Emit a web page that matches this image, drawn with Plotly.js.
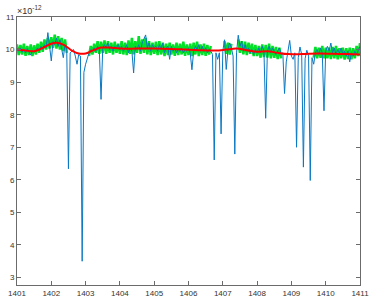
<!DOCTYPE html>
<html>
<head>
<meta charset="utf-8">
<script src="https://cdn.plot.ly/plotly-3.0.1.min.js"></script>
<style>
  html, body { margin: 0; padding: 0; background: #fff; }
  #chart { width: 374px; height: 305px; }
</style>
</head>
<body>
<div id="chart"></div>
<script>
// Sampling grid for the raw and cleaned signals (start, step)
const tStart = 1401;
const tStep = 0.05;

// Raw signal (blue), units of 1e-12
const rawSignal = [
  10.02, 9.95, 10.05, 9.92, 10.0, 9.9, 10.03, 9.93, 9.83, 9.97,
  9.92, 9.98, 10.05, 9.95, 10.1, 10.0, 10.15, 10.05, 10.52, 10.1,
  9.65, 10.25, 10.15, 10.35, 10.1, 10.3, 10.05, 9.75, 10.15, 10.0,
  6.34, 9.9, 9.95, 10.0, 9.8, 9.55, 9.85, 9.8, 3.5, 9.3,
  9.55, 9.75, 9.9, 10.0, 9.95, 10.05, 9.95, 10.1, 10.0, 8.47,
  10.05, 10.15, 10.05, 10.2, 10.0, 10.1, 9.95, 10.1, 10.05, 10.15,
  10.0, 10.1, 9.95, 10.05, 10.15, 9.9, 10.05, 9.95, 9.28, 10.1,
  10.0, 10.15, 9.95, 10.2, 10.3, 10.45, 10.05, 10.2, 9.95, 10.15,
  10.05, 10.1, 9.95, 10.15, 10.0, 10.2, 9.9, 10.05, 10.1, 9.7,
  10.1, 9.95, 10.05, 9.9, 10.0, 9.95, 10.05, 9.9, 10.0, 9.95,
  10.05, 9.9, 9.38, 9.95, 10.1, 10.0, 10.15, 9.95, 10.1, 9.95,
  10.05, 9.9, 10.0, 9.95, 9.85, 6.61, 9.9, 9.7, 9.9, 7.41,
  9.95, 10.3, 9.39, 10.0, 10.2, 10.05, 9.8, 6.79, 9.9, 10.44,
  10.1, 10.25, 9.95, 10.15, 9.95, 10.05, 9.9, 10.0, 9.85, 10.0,
  9.9, 10.05, 9.9, 10.1, 9.95, 7.89, 9.95, 10.1, 9.9, 10.05,
  9.95, 9.85, 9.95, 10.05, 9.85, 9.9, 8.65, 9.62, 9.95, 10.28,
  9.8, 9.7, 9.9, 7.0, 9.75, 10.08, 9.85, 6.39, 9.72, 9.98,
  9.8, 5.98, 9.75, 9.55, 9.9, 10.0, 9.85, 10.05, 9.9, 8.12,
  9.95, 10.1, 9.95, 10.2, 9.9, 10.05, 9.85, 10.0, 9.9, 10.05,
  9.85, 9.95, 9.8, 9.95, 9.62, 9.9, 9.8, 9.95, 9.85, 10.0,
  10.1
];

// Cleaned signal (green), gaps where the dips were cut out
const cleanSignal = [
  10.16, 9.83, 10.14, 9.85, 10.18, 9.81, 10.11, 9.83, 10.16, 9.8,
  10.13, 9.85, 10.18, 9.9, 10.24, 9.93, 10.31, 10.0, 10.36, 10.03,
  10.38, 10.05, 10.46, 10.03, 10.41, 10.0, 10.36, 9.95, 10.31, 9.9,
  null, null, null, null, null, null, null, null, null, null,
  null, null, 9.8, 10.11, 9.85, 10.18, 9.9, 10.26, 9.87, 10.24,
  9.9, 10.28, 9.87, 10.26, 9.9, 10.21, 9.85, 10.24, 9.9, 10.18,
  9.87, 10.26, 9.85, 10.21, 9.83, 10.28, 9.87, 10.36, 9.85, 10.26,
  9.9, 10.41, 9.87, 10.31, 9.9, 10.36, 9.85, 10.26, 9.83, 10.21,
  9.87, 10.24, 9.83, 10.26, 9.85, 10.21, 9.8, 10.18, 9.83, 10.21,
  9.85, 10.16, 9.81, 10.21, 9.83, 10.18, 9.85, 10.24, 9.81, 10.16,
  9.83, 10.18, 9.8, 10.21, 9.85, 10.24, 9.8, 10.16, 9.83, 10.18,
  9.81, 10.14, 9.85, 10.11, null, null, null, null, null, null,
  null, 10.26, 9.87, 10.21, 9.85, 10.18, null, null, null, 10.31,
  9.9, 10.26, 9.85, 10.24, 9.83, 10.21, 9.87, 10.18, 9.8, 10.14,
  9.8, 10.11, 9.75, 10.16, 9.77, 10.14, 9.75, 10.18, 9.73, 10.11,
  9.75, 10.08, 9.71, 10.06, 9.73, null, null, null, null, null,
  null, null, null, null, null, null, null, null, null, null,
  null, null, null, 9.75, 10.08, 9.73, 10.06, 9.75, 10.11, 9.73,
  10.06, 9.73, 10.06, 9.71, 10.08, 9.73, 10.11, 9.7, 10.04, 9.73,
  10.06, 9.69, 10.04, 9.71, 10.06, 9.7, 10.04, 9.73, 10.11, 9.8,
  10.2
];

// Smooth baseline (red)
const baseTime = [
  1401.0, 1401.25, 1401.5, 1401.75, 1402.0, 1402.15, 1402.35, 1402.6, 1402.8, 1403.0,
  1403.2, 1403.45, 1403.7, 1404.0, 1404.5, 1405.0, 1405.5, 1405.9, 1406.3, 1406.8,
  1407.1, 1407.4, 1407.7, 1408.0, 1408.3, 1408.6, 1408.9, 1409.3, 1409.8, 1410.2,
  1410.6, 1411.0
];
const baseline = [
  10.0, 9.97, 9.95, 10.05, 10.18, 10.21, 10.15, 9.97, 9.88, 9.88,
  9.97, 10.06, 10.06, 10.03, 10.03, 10.03, 10.02, 10.0, 9.98, 9.97,
  10.0, 10.03, 9.98, 9.93, 9.95, 9.9, 9.86, 9.86, 9.88, 9.87,
  9.86, 9.85
];

const xTicks = [1401, 1402, 1403, 1404, 1405, 1406, 1407, 1408, 1409, 1410, 1411];
const yTicks = [3, 4, 5, 6, 7, 8, 9, 10, 11];

const rawTime = rawSignal.map((v, i) => tStart + i * tStep);
const cleanTime = cleanSignal.map((v, i) => tStart + i * tStep);

const axisColor = '#6b6b6b';

Plotly.newPlot('chart', [{
    x: cleanTime,
    y: cleanSignal,
    type: 'scatter',
    mode: 'lines',
    line: { color: 'rgb(0,225,40)', width: 2.5 },
    connectgaps: false,
    hoverinfo: 'skip'
}, {
    x: rawTime,
    y: rawSignal,
    type: 'scatter',
    mode: 'lines',
    line: { color: 'rgb(10,120,195)', width: 1 },
    hoverinfo: 'skip'
}, {
    x: baseTime,
    y: baseline,
    type: 'scatter',
    mode: 'lines',
    line: { color: 'rgb(255,0,0)', width: 2, shape: 'spline' },
    hoverinfo: 'skip'
}], {
    width: 374,
    height: 305,
    showlegend: false,
    paper_bgcolor: '#fff',
    plot_bgcolor: '#fff',
    margin: { l: 17, r: 14, t: 17, b: 20 },
    font: { family: 'Liberation Sans, Arial, sans-serif', size: 8, color: '#333' },
    xaxis: {
        range: [1401, 1411],
        tickvals: xTicks,
        ticktext: xTicks.map(String),
        ticks: 'inside',
        ticklen: 4,
        tickcolor: axisColor,
        showline: true,
        linecolor: axisColor,
        linewidth: 1,
        mirror: 'ticks',
        showgrid: false,
        zeroline: false
    },
    yaxis: {
        range: [2.77, 11],
        tickvals: yTicks,
        ticktext: yTicks.map(String),
        ticks: 'inside',
        ticklen: 4,
        tickcolor: axisColor,
        showline: true,
        linecolor: axisColor,
        linewidth: 1,
        mirror: 'ticks',
        showgrid: false,
        zeroline: false
    },
    annotations: [{
        text: '×10<sup>-12</sup>',
        xref: 'paper', yref: 'paper',
        x: 0, y: 1,
        xanchor: 'left', yanchor: 'bottom',
        showarrow: false,
        font: { size: 9, color: '#333' },
        xshift: -2, yshift: -1
    }]
}, { staticPlot: true });
</script>
</body>
</html>
